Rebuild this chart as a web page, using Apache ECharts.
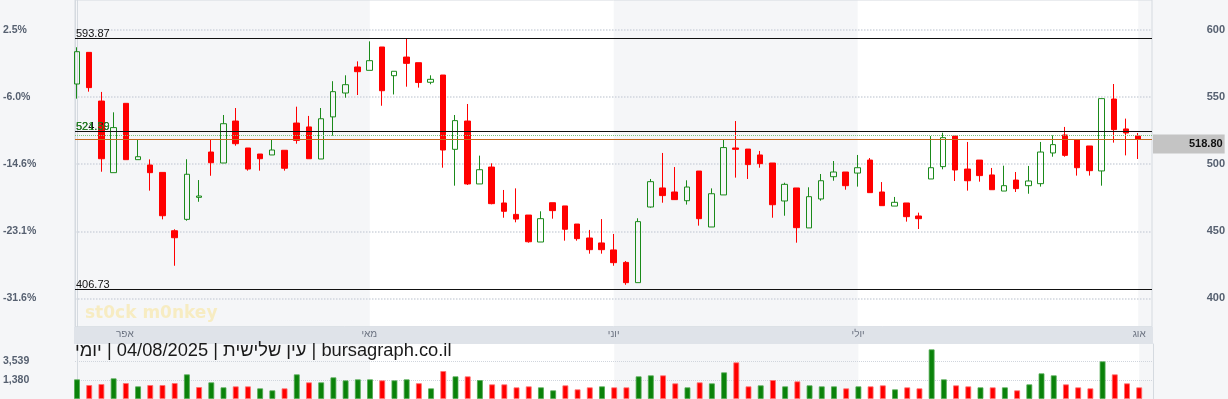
<!DOCTYPE html>
<html>
<head>
<meta charset="utf-8">
<script src="https://cdn.jsdelivr.net/npm/echarts@6/dist/echarts.min.js"></script>
<style>
  html, body { margin: 0; padding: 0; background: #f5f6f8; }
  #chart { width: 1228px; height: 399px; }
</style>
</head>
<body>
<div id="chart"></div>
<script>
// daily candles, index 0 = first visible trading day
const openP = [559.8, 583.4, 547.1, 493.7, 545.4, 503.4, 499.4, 493.9, 450.4, 458.9,
  475.3, 509.1, 500.9, 532.2, 512.1, 507.6, 506.9, 510.4, 530.7, 527.8,
  503.9, 535.3, 553.1, 572.5, 570.0, 587.4, 566.0, 579.9, 575.7, 561.1,
  566.5, 511.1, 532.2, 485.3, 497.9, 471.1, 462.6, 462.1, 442.0, 471.3,
  468.9, 455.4, 445.0, 441.3, 436.1, 426.8, 411.7, 468.1, 482.3, 479.3,
  472.8, 494.9, 453.2, 477.1, 512.1, 511.3, 506.9, 500.9, 472.6, 482.3,
  452.5, 474.1, 490.7, 494.2, 493.4, 503.1, 479.3, 468.8, 471.1, 461.4,
  489.0, 498.2, 521.0, 496.4, 503.1, 492.0, 480.0, 488.2, 484.0, 485.5,
  508.4, 521.8, 518.1, 513.6, 495.0, 548.6, 526.3, 521.0];
const closeP = [583.9, 557.1, 504.1, 527.3, 503.4, 505.6, 493.7, 461.6, 445.2, 492.5,
  476.3, 501.1, 530.2, 515.3, 496.4, 504.1, 510.6, 497.0, 517.8, 504.1,
  533.9, 554.1, 559.3, 569.0, 577.2, 554.8, 569.3, 575.2, 560.9, 563.3,
  510.6, 532.5, 485.3, 495.9, 470.6, 464.9, 459.1, 442.2, 459.4, 465.4,
  451.5, 444.5, 436.3, 436.3, 426.6, 411.7, 457.2, 487.0, 476.6, 473.6,
  483.0, 459.4, 478.0, 512.4, 511.1, 499.7, 500.4, 469.8, 485.0, 452.7,
  475.8, 487.7, 494.2, 484.0, 497.4, 478.8, 469.1, 471.6, 460.9, 459.4,
  497.4, 519.8, 495.7, 487.7, 491.5, 481.0, 484.0, 481.8, 487.5, 509.1,
  514.6, 506.6, 497.4, 495.2, 548.9, 525.8, 523.3, 518.8];
const lowP = [548.9, 554.1, 494.4, 493.7, 503.4, 503.4, 480.3, 458.9, 424.3, 457.9,
  472.0, 491.4, 500.9, 513.8, 495.2, 495.2, 506.9, 495.2, 515.3, 504.1,
  503.9, 521.3, 549.6, 551.6, 570.0, 543.6, 552.0, 557.8, 557.1, 559.6,
  497.4, 484.0, 484.5, 485.3, 470.1, 460.1, 456.7, 441.5, 442.0, 459.4,
  443.0, 443.0, 433.3, 433.3, 424.3, 410.1, 411.7, 467.6, 471.3, 473.6,
  469.9, 454.2, 453.2, 477.1, 490.0, 489.0, 497.4, 460.1, 461.6, 441.5,
  452.5, 472.8, 487.7, 481.0, 483.3, 478.8, 469.1, 468.8, 457.2, 451.7,
  489.0, 496.2, 487.5, 480.3, 487.0, 481.0, 480.0, 479.3, 478.0, 483.3,
  505.6, 505.6, 491.5, 491.5, 484.0, 516.1, 506.6, 503.9];
const highP = [587.2, 583.4, 553.9, 538.7, 545.4, 518.1, 503.6, 493.9, 451.5, 503.7,
  488.2, 518.8, 536.7, 541.9, 512.1, 507.6, 518.6, 510.4, 542.9, 536.0,
  541.9, 561.9, 566.3, 576.7, 591.6, 587.4, 569.3, 593.4, 575.7, 566.3,
  566.5, 536.7, 544.9, 506.4, 500.7, 480.8, 482.0, 462.1, 464.9, 471.3,
  468.9, 455.4, 451.0, 459.1, 448.0, 427.8, 459.7, 489.0, 508.4, 497.9,
  488.0, 494.9, 482.0, 518.6, 532.2, 511.3, 509.9, 500.9, 486.2, 482.3,
  482.8, 492.7, 502.4, 494.2, 506.9, 504.6, 486.7, 475.6, 471.1, 463.9,
  521.0, 523.5, 521.0, 516.6, 503.1, 497.2, 498.9, 494.2, 498.7, 516.6,
  521.5, 527.8, 518.1, 513.6, 548.9, 559.8, 534.0, 523.3];
const volume = [1460, 812, 926, 1573, 1039, 664, 812, 812, 1039, 2028,
  585, 1119, 551, 664, 664, 437, 210, 437, 2028, 1119,
  1119, 1687, 1346, 1460, 1460, 1346, 1346, 1460, 1020, 437,
  2403, 1801, 1801, 1380, 891, 891, 551, 664, 551, 210,
  778, 323, 551, 664, 551, 551, 1801, 1914, 1914, 1005,
  551, 1119, 1005, 2255, 3392, 664, 778, 1380, 664, 1232,
  778, 664, 664, 437, 664, 664, 778, 323, 551, 437,
  4869, 1460, 778, 664, 551, 551, 551, 210, 891, 2141,
  1914, 891, 551, 437, 3505, 2028, 1005, 551];

// month labels sit on the first trading day of each month
const monthNames = ['אפר', 'מאי', 'יוני', 'יולי', 'אוג'];
const monthIdx = [4, 24, 44, 64, 87];
const bandIdx = [24, 44, 64, 87];

const priceTicks = [400, 450, 500, 550, 600];
const pctLabels = ['-31.6%', '-23.1%', '-14.6%', '-6.0%', '2.5%'];
const volTicks = [1380, 3539];

const levelValues = [593.87, 524.39, 521.59, 406.73];
const levelColors = ['#111111', '#111111', '#1f8f1f', '#111111'];

const xMin = -0.164, xMax = 88.13;
const priceMin = 378.86, priceMax = 622.44;
const volMin = -779, volMax = 5471, volStep = 2159;

const font = 'Liberation Sans, Arial, sans-serif';
const axisText = '#566070';
const lineGray = '#d5dae0';
const gridDots = { color: '#d0d5dd', type: [1.5, 1.5], width: 1.5 };
const upColor = '#1a8a1a';
const downColor = '#ff0000';

const candles = openP.map((o, i) => [i, o, closeP[i], lowP[i], highP[i]]);
const volData = volume.map((v, i) => {
  const up = i === 0 || closeP[i] >= closeP[i - 1];
  return {
    value: [i, v],
    itemStyle: {
      color: up ? '#0a820a' : '#ff0000',
      borderColor: up ? 'rgba(80,170,80,0.8)' : 'rgba(255,110,110,0.8)',
      borderWidth: 1
    }
  };
});

const near = (a, b) => Math.abs(a - b) < 1e-6;

function bandAxis(gridIndex) {
  return {
    type: 'value', gridIndex: gridIndex, min: xMin, max: xMax, z: -1,
    axisLine: { show: false },
    axisLabel: { show: false },
    axisTick: { show: false, customValues: bandIdx },
    splitLine: { show: false },
    splitArea: { show: true, areaStyle: { color: ['#ffffff', 'rgba(255,255,255,0)'] } }
  };
}

const levelLines = levelValues.map((v, k) => ({
  yAxis: v,
  lineStyle: k === 2
    ? { color: '#7cc47c', type: 'dotted', width: 1 }
    : { color: levelColors[k], type: 'solid', width: 1.2 },
  label: {
    show: true, position: 'insideStartTop', formatter: v.toFixed(2),
    color: levelColors[k], fontSize: 11, fontFamily: font,
    distance: k === 2 ? [1, 3] : [1, -1]
  }
}));
const lastClose = closeP[closeP.length - 1];
levelLines.push({
  yAxis: lastClose,
  lineStyle: { color: '#c46a1e', type: 'solid', width: 1.2 },
  label: {
    show: true, position: 'end', formatter: lastClose.toFixed(2),
    color: '#111', fontSize: 11, fontWeight: 'bold', fontFamily: font,
    backgroundColor: '#c4c4c4', padding: [4, 2, 4, 36], distance: 1, offset: [0, 5]
  }
});

const chart = echarts.init(document.getElementById('chart'));
chart.setOption({
  animation: false,
  backgroundColor: '#f5f6f8',
  title: [{
    text: 'יומי\u200E | 04/08/2025 | עין שלישית\u200E | bursagraph.co.il',
    left: 75, top: 341.5, padding: 0,
    textStyle: { fontSize: 18.3, fontWeight: 'normal', color: '#1a1a1a', fontFamily: font }
  }, {
    text: 'st0ck m0nkey',
    left: 85, top: 305, padding: 0,
    textStyle: { fontSize: 17, fontWeight: 'bold', color: '#f7ecc2', fontFamily: 'DejaVu Sans' }
  }],
  grid: [
    { left: 74, right: 75, top: 0, height: 326.7, show: true, backgroundColor: 'transparent', borderColor: lineGray, borderWidth: 1 },
    { left: 74, right: 75, top: 326.7, height: 17.3, show: true, backgroundColor: '#dfe3e9', borderWidth: 0 },
    { left: 74, right: 75, top: 344, bottom: 0 }
  ],
  xAxis: [
    bandAxis(0),
    {
      type: 'value', gridIndex: 1, min: xMin, max: xMax, position: 'top',
      axisLine: { show: false }, axisTick: { show: false }, splitLine: { show: false },
      axisLabel: {
        show: true, inside: true, margin: 3, customValues: monthIdx,
        formatter: v => monthNames[monthIdx.indexOf(v)] || '',
        color: '#6b7280', fontSize: 10, fontFamily: font
      }
    },
    bandAxis(2)
  ],
  yAxis: [
    {
      type: 'value', gridIndex: 0, position: 'right', min: priceMin, max: priceMax, splitNumber: 5,
      axisLine: { show: true, lineStyle: { color: lineGray } }, axisTick: { show: false },
      axisLabel: {
        align: 'right', margin: 73, color: axisText, fontSize: 11, fontWeight: 'bold', fontFamily: font,
        formatter: v => priceTicks.some(t => near(t, v)) ? String(v) : ''
      },
      splitLine: { show: true, showMinLine: false, showMaxLine: false, lineStyle: gridDots }
    },
    {
      type: 'value', gridIndex: 0, position: 'left', min: priceMin, max: priceMax, splitNumber: 5,
      axisLine: { show: true, lineStyle: { color: lineGray } }, axisTick: { show: false },
      axisLabel: {
        align: 'left', margin: 72, color: axisText, fontSize: 10.5, fontWeight: 'bold', fontFamily: font,
        formatter: v => {
          const k = priceTicks.findIndex(t => near(t, v));
          return k < 0 ? '' : pctLabels[k];
        }
      },
      splitLine: { show: false }
    },
    { type: 'value', gridIndex: 1, show: false },
    {
      type: 'value', gridIndex: 2, position: 'left', min: volMin, max: volMax, interval: volStep, startValue: volMin,
      axisLine: { show: true, lineStyle: { color: lineGray } }, axisTick: { show: false },
      axisLabel: {
        align: 'left', margin: 72, color: axisText, fontSize: 10.5, fontWeight: 'bold', fontFamily: font,
        formatter: v => volTicks.includes(v) ? v.toLocaleString('en-US') : ''
      },
      splitLine: { show: true, showMinLine: false, showMaxLine: false, lineStyle: { color: '#d0d5dd', type: 'dotted', width: 1 } }
    },
    {
      type: 'value', gridIndex: 2, position: 'right', min: volMin, max: volMax,
      axisLine: { show: true, lineStyle: { color: lineGray } }, axisTick: { show: false },
      axisLabel: { show: false }, splitLine: { show: false }
    }
  ],
  series: [
    {
      type: 'candlestick', xAxisIndex: 0, yAxisIndex: 0,
      data: candles, encode: { x: 0, y: [1, 2, 3, 4] },
      barWidth: 6,
      itemStyle: {
        color: 'transparent', color0: downColor,
        borderColor: upColor, borderColor0: downColor, borderWidth: 1
      },
      markLine: { symbol: 'none', silent: true, animation: false, data: levelLines }
    },
    {
      type: 'bar', xAxisIndex: 2, yAxisIndex: 3,
      data: volData, barWidth: 6
    }
  ]
});
</script>
</body>
</html>
